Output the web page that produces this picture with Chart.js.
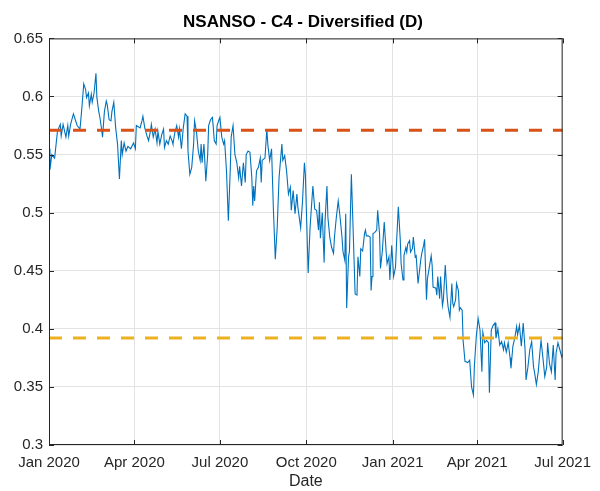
<!DOCTYPE html>
<html>
<head>
<meta charset="utf-8">
<script src="https://cdn.jsdelivr.net/npm/chart.js@4.4.0/dist/chart.umd.min.js"></script>
<style>
  html, body { margin: 0; padding: 0; background: #ffffff; }
  #wrap { width: 600px; height: 491px; }
</style>
</head>
<body>
<div id="wrap"><canvas id="nsanso"></canvas></div>
<script>
// days counted from 1 Jan 2020
const days = [
  0, 1, 3, 6, 9, 12, 13, 15, 18, 20, 21, 23, 26, 28, 30, 33, 35, 37, 39, 40,
  42, 43, 45, 46, 48, 50, 51, 53, 54, 56, 57, 59, 61, 62, 64, 66, 67, 69, 71, 73,
  75, 77, 78, 80, 82, 84, 87, 90, 92, 93, 97, 99, 100, 102, 104, 106, 108, 109, 111, 113,
  115, 116, 118, 120, 122, 123, 125, 127, 129, 131, 132, 134, 136, 138, 139, 141, 143, 145, 147, 148,
  150, 152, 154, 155, 157, 159, 161, 162, 163, 165, 167, 169, 170, 172, 174, 175, 176, 178, 179, 181,
  182, 184, 186, 187, 189, 191, 193, 194, 196, 198, 200, 202, 203, 205, 207, 209, 210, 212, 214, 216,
  217, 218, 219, 221, 223, 225, 226, 227, 230, 232, 233, 235, 237, 239, 241, 243, 245, 248, 249, 251,
  253, 255, 257, 258, 260, 262, 264, 265, 268, 270, 272, 273, 276, 278, 281, 283, 285, 287, 288, 289,
  291, 293, 294, 296, 297, 299, 301, 303, 304, 306, 308, 310, 312, 313, 315, 316, 317, 319, 320, 322,
  324, 326, 328, 329, 331, 332, 334, 336, 337, 338, 340, 342, 343, 344, 345, 347, 349, 350, 352, 353,
  355, 357, 359, 360, 362, 363, 365, 367, 369, 370, 372, 374, 375, 377, 378, 380, 381, 382, 384, 385,
  387, 388, 390, 391, 393, 395, 396, 397, 399, 400, 402, 403, 404, 407, 408, 409, 412, 413, 414, 416,
  417, 419, 420, 422, 424, 425, 427, 429, 430, 431, 433, 434, 436, 437, 438, 440, 441, 443, 446, 448,
  450, 452, 453, 455, 457, 459, 461, 462, 464, 466, 468, 469, 471, 473, 475, 476, 478, 480, 482, 484,
  485, 487, 489, 491, 492, 494, 496, 498, 499, 501, 503, 505, 507, 508, 510, 512, 514, 516, 517, 519,
  521, 523, 524, 526, 528, 530, 531, 533, 535, 537, 539, 540, 542, 544, 546, 547
];
const values = [
  0.555, 0.537, 0.550, 0.547, 0.570, 0.576, 0.566, 0.576, 0.565, 0.575, 0.566, 0.576, 0.585, 0.580, 0.575, 0.572, 0.590, 0.611, 0.606, 0.599,
  0.603, 0.592, 0.602, 0.595, 0.603, 0.620, 0.599, 0.587, 0.583, 0.572, 0.565, 0.587, 0.596, 0.593, 0.580, 0.579, 0.587, 0.595, 0.573, 0.559,
  0.529, 0.562, 0.550, 0.560, 0.553, 0.557, 0.555, 0.560, 0.555, 0.575, 0.573, 0.579, 0.583, 0.573, 0.567, 0.562, 0.570, 0.576, 0.565, 0.572,
  0.560, 0.570, 0.559, 0.567, 0.572, 0.556, 0.562, 0.559, 0.566, 0.562, 0.559, 0.569, 0.575, 0.565, 0.572, 0.555, 0.573, 0.585, 0.583, 0.553,
  0.533, 0.539, 0.559, 0.579, 0.570, 0.553, 0.545, 0.559, 0.543, 0.559, 0.527, 0.550, 0.575, 0.580, 0.582, 0.573, 0.562, 0.559, 0.575, 0.580,
  0.582, 0.565, 0.559, 0.562, 0.536, 0.493, 0.536, 0.565, 0.575, 0.550, 0.543, 0.530, 0.540, 0.523, 0.543, 0.526, 0.550, 0.553, 0.552, 0.530,
  0.506, 0.523, 0.510, 0.536, 0.539, 0.547, 0.526, 0.545, 0.547, 0.572, 0.559, 0.545, 0.555, 0.502, 0.460, 0.487, 0.530, 0.559, 0.545, 0.549,
  0.536, 0.516, 0.522, 0.502, 0.519, 0.499, 0.516, 0.505, 0.487, 0.510, 0.543, 0.533, 0.448, 0.487, 0.523, 0.503, 0.502, 0.485, 0.509, 0.478,
  0.500, 0.457, 0.493, 0.523, 0.496, 0.479, 0.470, 0.465, 0.479, 0.496, 0.510, 0.496, 0.479, 0.467, 0.459, 0.499, 0.418, 0.462, 0.467, 0.533,
  0.482, 0.430, 0.429, 0.462, 0.445, 0.469, 0.467, 0.482, 0.485, 0.480, 0.480, 0.479, 0.433, 0.445, 0.482, 0.483, 0.485, 0.502, 0.482, 0.452,
  0.467, 0.492, 0.467, 0.456, 0.462, 0.442, 0.472, 0.445, 0.453, 0.472, 0.505, 0.478, 0.456, 0.442, 0.463, 0.470, 0.466, 0.473, 0.476, 0.466,
  0.469, 0.479, 0.462, 0.463, 0.439, 0.453, 0.460, 0.465, 0.472, 0.477, 0.425, 0.443, 0.448, 0.463, 0.455, 0.436, 0.435, 0.429, 0.445, 0.426,
  0.445, 0.420, 0.425, 0.455, 0.427, 0.419, 0.410, 0.439, 0.422, 0.419, 0.425, 0.439, 0.433, 0.416, 0.418, 0.416, 0.390, 0.372, 0.371, 0.373,
  0.350, 0.343, 0.368, 0.393, 0.409, 0.399, 0.363, 0.397, 0.388, 0.390, 0.388, 0.345, 0.399, 0.403, 0.405, 0.392, 0.400, 0.386, 0.389, 0.382,
  0.388, 0.380, 0.388, 0.375, 0.366, 0.385, 0.392, 0.402, 0.395, 0.403, 0.385, 0.405, 0.382, 0.356, 0.367, 0.382, 0.389, 0.367, 0.363, 0.352,
  0.363, 0.382, 0.390, 0.375, 0.359, 0.367, 0.388, 0.370, 0.363, 0.386, 0.356, 0.379, 0.388, 0.382, 0.376, 0.378
];
const upperLevel = 0.571;
const lowerLevel = 0.392;
const xTickDays = [0, 91, 182, 274, 366, 456, 547];
const xTickLabels = ["Jan 2020", "Apr 2020", "Jul 2020", "Oct 2020", "Jan 2021", "Apr 2021", "Jul 2021"];
const yTicks = [0.3, 0.35, 0.4, 0.45, 0.5, 0.55, 0.6, 0.65];

const FONT = "'Liberation Sans', Arial, Helvetica, sans-serif";
const AXIS_COLOR = "#262626";

// MATLAB style box with ticks pointing inward on all four sides
const boxPlugin = {
  id: "matlabBox",
  afterDraw(chart) {
    const { ctx, chartArea: a, scales } = chart;
    ctx.save();
    ctx.strokeStyle = AXIS_COLOR;
    ctx.lineWidth = 1;
    ctx.strokeRect(a.left + 0.5, a.top + 0.5, a.right - a.left - 1, a.bottom - a.top - 1);
    ctx.beginPath();
    scales.x.ticks.forEach(t => {
      const px = Math.round(scales.x.getPixelForValue(t.value)) + 0.5;
      ctx.moveTo(px, a.bottom); ctx.lineTo(px, a.bottom - 5);
      ctx.moveTo(px, a.top); ctx.lineTo(px, a.top + 5);
    });
    scales.y.ticks.forEach(t => {
      const py = Math.round(scales.y.getPixelForValue(t.value)) + 0.5;
      ctx.moveTo(a.left, py); ctx.lineTo(a.left + 5, py);
      ctx.moveTo(a.right, py); ctx.lineTo(a.right - 5, py);
    });
    ctx.stroke();
    ctx.restore();
  }
};

const seriesPoints = days.map((d, i) => ({ x: d, y: values[i] }));
const first = xTickDays[0];
const last = xTickDays[xTickDays.length - 1];

new Chart(document.getElementById("nsanso"), {
  type: "line",
  data: {
    datasets: [{
      label: "NSANSO",
      data: seriesPoints,
      borderColor: "#0072BD",
      borderWidth: 1.1,
      pointRadius: 0,
      tension: 0,
      order: 3
    }, {
      label: "upper",
      data: [{ x: first, y: upperLevel }, { x: last, y: upperLevel }],
      borderColor: "#D95319",
      borderWidth: 3,
      borderDash: [13, 11],
      pointRadius: 0,
      order: 1
    }, {
      label: "lower",
      data: [{ x: first, y: lowerLevel }, { x: last, y: lowerLevel }],
      borderColor: "#EDB120",
      borderWidth: 3,
      borderDash: [13, 11],
      pointRadius: 0,
      order: 2
    }]
  },
  options: {
    responsive: true,
    maintainAspectRatio: false,
    animation: false,
    layout: { padding: { left: 6, right: 0, top: 0, bottom: 0 } },
    plugins: {
      legend: { display: false },
      tooltip: { enabled: false },
      title: {
        display: true,
        text: "NSANSO - C4 - Diversified (D)",
        color: "#000000",
        font: { family: FONT, size: 17, weight: "bold" },
        padding: { top: 12, bottom: 6 }
      }
    },
    scales: {
      x: {
        type: "linear",
        min: first,
        max: last,
        afterBuildTicks: scale => { scale.ticks = xTickDays.map(v => ({ value: v })); },
        afterFit: scale => { scale.height = 46; },
        ticks: {
          autoSkip: false,
          maxRotation: 0,
          padding: 9,
          color: AXIS_COLOR,
          font: { family: FONT, size: 15 },
          callback: (v, i) => xTickLabels[i]
        },
        grid: { color: "#e3e3e3", drawTicks: false },
        border: { display: false },
        title: {
          display: true,
          text: "Date",
          color: AXIS_COLOR,
          font: { family: FONT, size: 16 },
          padding: { top: 0, bottom: 0 }
        }
      },
      y: {
        min: yTicks[0],
        max: yTicks[yTicks.length - 1],
        afterBuildTicks: scale => { scale.ticks = yTicks.map(v => ({ value: v })); },
        afterFit: scale => { scale.width = 43; },
        ticks: {
          padding: 6,
          color: AXIS_COLOR,
          font: { family: FONT, size: 15 },
          callback: v => String(v)
        },
        grid: { color: "#e3e3e3", drawTicks: false },
        border: { display: false }
      },
      // empty right axis only reserves the margin right of the plot box
      yRight: {
        position: "right",
        min: yTicks[0],
        max: yTicks[yTicks.length - 1],
        afterFit: scale => { scale.width = 37; },
        ticks: { display: false },
        grid: { display: false, drawTicks: false },
        border: { display: false }
      }
    }
  },
  plugins: [boxPlugin]
});
</script>
</body>
</html>
